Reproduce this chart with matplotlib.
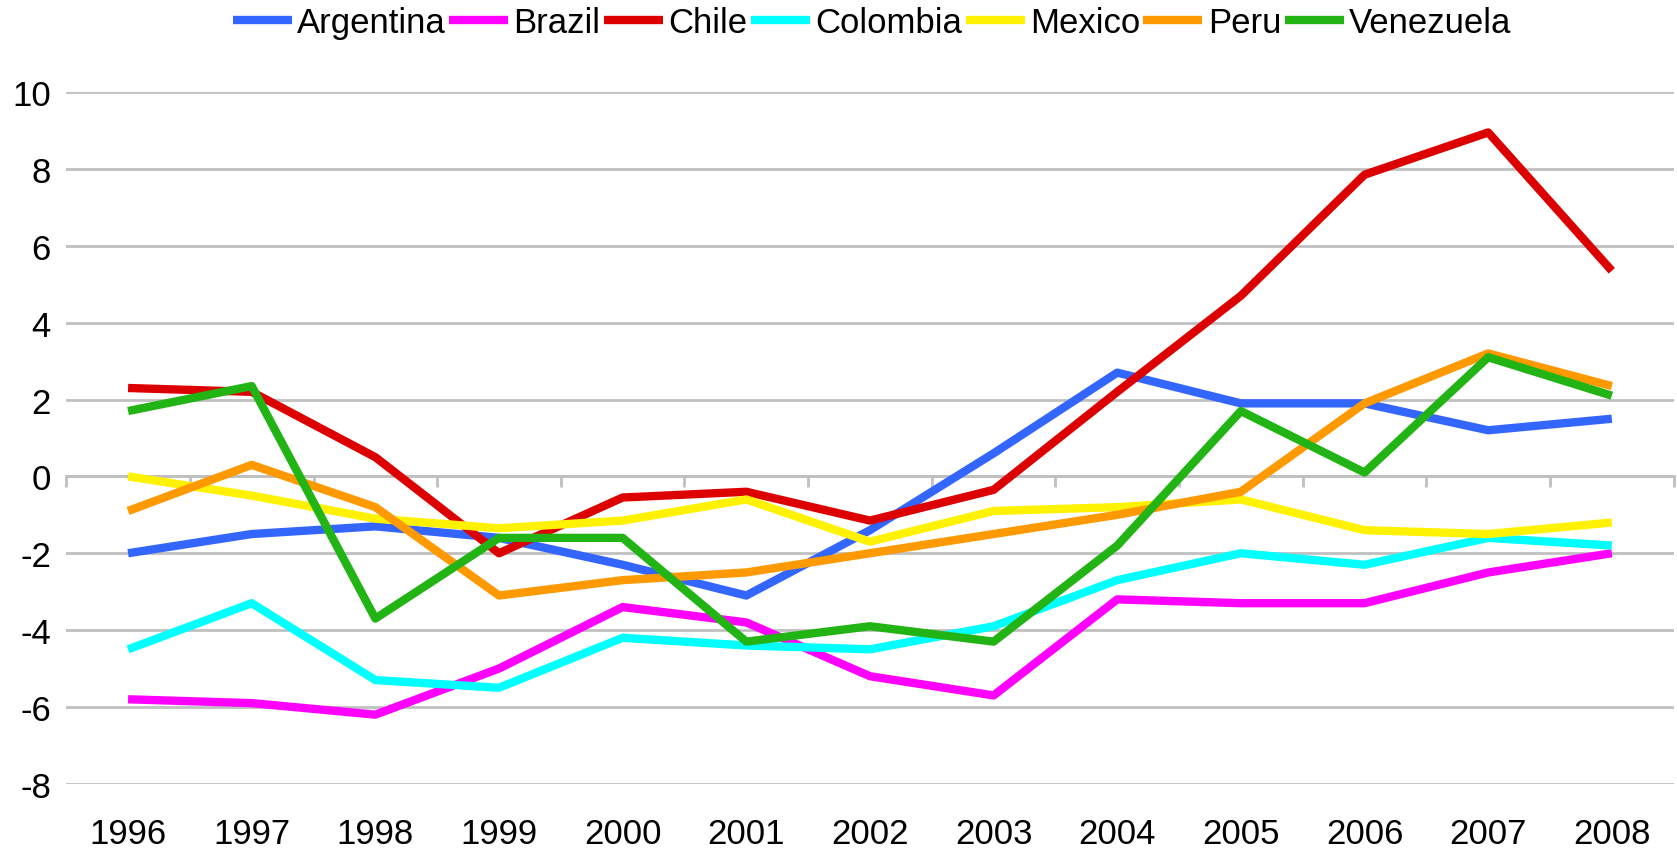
import matplotlib
matplotlib.use('Agg')
from matplotlib import pyplot as plt
import numpy as np

plt.rcParams['font.family'] = ['Liberation Sans', 'DejaVu Sans']
plt.rcParams['axes.unicode_minus'] = False

# 数据
years = ['1996', '1997', '1998', '1999', '2000', '2001', '2002',
         '2003', '2004', '2005', '2006', '2007', '2008']
argentina = [-2.0, -1.5, -1.3, -1.6, -2.3, -3.1, -1.4, 0.6, 2.7, 1.9, 1.9, 1.2, 1.5]
brazil = [-5.8, -5.9, -6.2, -5.0, -3.4, -3.8, -5.2, -5.7, -3.2, -3.3, -3.3, -2.5, -2.0]
chile = [2.3, 2.2, 0.5, -2.0, -0.55, -0.4, -1.15, -0.35, 2.2, 4.7, 7.85, 8.95, 5.35]
colombia = [-4.5, -3.3, -5.3, -5.5, -4.2, -4.4, -4.5, -3.9, -2.7, -2.0, -2.3, -1.6, -1.8]
mexico = [0.0, -0.5, -1.1, -1.35, -1.15, -0.6, -1.7, -0.9, -0.8, -0.6, -1.4, -1.5, -1.2]
peru = [-0.9, 0.3, -0.8, -3.1, -2.7, -2.5, -2.0, -1.5, -1.0, -0.4, 1.9, 3.2, 2.35]
venezuela = [1.7, 2.35, -3.7, -1.6, -1.6, -4.3, -3.9, -4.3, -1.8, 1.7, 0.1, 3.1, 2.1]

series = [('Argentina', argentina, '#3366FF'),
          ('Brazil', brazil, '#FF00FF'),
          ('Chile', chile, '#DD0000'),
          ('Colombia', colombia, '#00FFFF'),
          ('Mexico', mexico, '#FFF200'),
          ('Peru', peru, '#FF9900'),
          ('Venezuela', venezuela, '#22B314')]

fig = plt.figure(figsize=(16.77, 8.54), dpi=100)
ax = fig.add_axes([0.0395, 0.081, 0.9585, 0.81])

x = np.arange(len(years))
for name, vals, c in series:
    ax.plot(x, vals, c=c, linewidth=6, label=name, solid_capstyle='butt', zorder=3)

ax.set_xlim(-0.5, len(years) - 0.5)
ax.set_ylim(-8, 10)
ax.set_yticks(np.arange(-8, 11, 2))
ax.set_xticks(x)
ax.set_xticklabels(years)
ax.grid(axis='y', color='#C0C0C0', linewidth=2, zorder=1)
ax.set_axisbelow(True)
for s in ax.spines.values():
    s.set_visible(False)
ax.tick_params(axis='x', length=0, pad=24, labelsize=25)
ax.tick_params(axis='y', length=0, pad=11, labelsize=25)

# 0 线上的分类刻度
sec = ax.secondary_xaxis(8 / 18)
sec.set_xticks(np.arange(-0.5, len(years), 1))
sec.set_xticklabels([])
sec.spines['bottom'].set_color('#C0C0C0')
sec.spines['bottom'].set_linewidth(2)
sec.tick_params(axis='x', direction='out', length=8, width=2, color='#C0C0C0')

ax.legend(loc='center', bbox_to_anchor=(0.52, 0.972), bbox_transform=fig.transFigure,
          ncol=7, frameon=False, fontsize=25, handlelength=1.7, handletextpad=0.15,
          columnspacing=0.1, borderpad=0, borderaxespad=0)

fig.savefig('out.png', dpi=100)
